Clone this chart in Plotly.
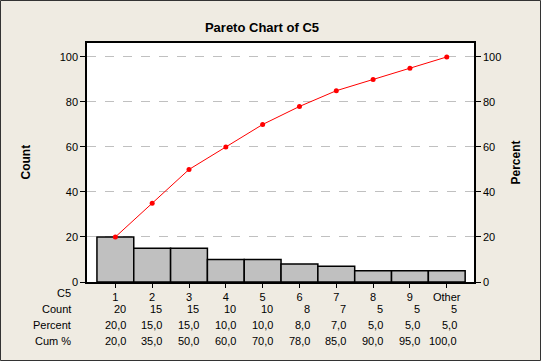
import plotly.graph_objects as go

categories = ["1", "2", "3", "4", "5", "6", "7", "8", "9", "Other"]
counts = [20, 15, 15, 10, 10, 8, 7, 5, 5, 5]
percents = [20.0, 15.0, 15.0, 10.0, 10.0, 8.0, 7.0, 5.0, 5.0, 5.0]
cum_pcts = [20.0, 35.0, 50.0, 60.0, 70.0, 78.0, 85.0, 90.0, 95.0, 100.0]
y_ticks = [0, 20, 40, 60, 80, 100]

W, H = 541, 361
L, R, T, B = 87, 474, 43, 282
pw, ph = R - L, B - T
FONT = "Liberation Sans, Arial, sans-serif"
BG = "#EFEBE2"

xs = list(range(1, len(categories) + 1))

fig = go.Figure()
fig.add_trace(go.Bar(x=xs, y=counts, width=1.0,
                     marker=dict(color="#C0C0C0", line=dict(color="black", width=1.5)),
                     yaxis="y", showlegend=False, hoverinfo="skip"))
fig.add_trace(go.Scatter(x=xs, y=cum_pcts, mode="lines+markers",
                         line=dict(color="#FF0000", width=1),
                         marker=dict(color="#FF0000", size=5),
                         yaxis="y2", showlegend=False, hoverinfo="skip"))

def fmt(v):
    return f"{v:.1f}".replace(".", ",")

ann = []
row_y = [293, 309, 325, 341]
row_labels = ["C5", "Count", "Percent", "Cum %"]
for lbl, py in zip(row_labels, row_y):
    ann.append(dict(text=lbl, xref="paper", yref="paper",
                    x=(73 - L) / pw, y=(B - py) / ph, xanchor="right", yanchor="middle",
                    showarrow=False, font=dict(size=11, color="black", family=FONT)))
row_vals = [[str(c) for c in counts], [fmt(p) for p in percents], [fmt(c) for c in cum_pcts]]
for vals, py in zip(row_vals, row_y[1:]):
    for x, v in zip(xs, vals):
        ann.append(dict(text=v, xref="x", yref="paper", x=x + 0.33, y=(B - py) / ph,
                        xanchor="right", yanchor="middle", showarrow=False,
                        font=dict(size=11, color="black", family=FONT)))
ann.append(dict(text="<b>Count</b>", xref="paper", yref="paper", x=(25 - L) / pw, y=0.5,
                textangle=-90, showarrow=False, xanchor="center", yanchor="middle",
                font=dict(size=12, color="black", family=FONT)))
ann.append(dict(text="<b>Percent</b>", xref="paper", yref="paper", x=(515 - L) / pw, y=0.5,
                textangle=-90, showarrow=False, xanchor="center", yanchor="middle",
                font=dict(size=12, color="black", family=FONT)))

fig.update_layout(
    width=W, height=H,
    margin=dict(l=L, r=W - R, t=T, b=H - B, pad=0),
    paper_bgcolor=BG, plot_bgcolor="white",
    font=dict(family=FONT, size=11, color="black"),
    title=dict(text="<b>Pareto Chart of C5</b>", x=262 / W, xanchor="center", xref="container",
               y=1 - 27 / H, yanchor="middle", font=dict(size=13, color="black", family=FONT)),
    xaxis=dict(range=[0.23, 10.74], tickvals=xs, ticktext=categories,
               ticks="outside", ticklen=4, tickcolor="black", showgrid=False,
               showline=True, linecolor="black", linewidth=1.5, mirror=True,
               zeroline=False, tickfont=dict(size=11, color="black")),
    yaxis=dict(range=[0, 106.2], tickvals=y_ticks, ticks="outside", ticklen=5,
               tickcolor="black", showgrid=True, gridcolor="#C0C0C0", griddash="dash",
               gridwidth=1, showline=True, linecolor="black", linewidth=1.5, mirror=True,
               zeroline=False, tickfont=dict(size=11, color="black")),
    yaxis2=dict(range=[0, 106.2], tickvals=y_ticks, overlaying="y", side="right",
                ticks="outside", ticklen=5, tickcolor="black", showgrid=False,
                showline=True, linecolor="black", linewidth=1.5, zeroline=False,
                tickfont=dict(size=11, color="black")),
    annotations=ann,
    shapes=[dict(type="rect", xref="paper", yref="paper",
                 x0=(0.5 - L) / pw, x1=(W - 0.5 - L) / pw,
                 y0=(B - (H - 0.5)) / ph, y1=(B - 0.5) / ph,
                 line=dict(color="#333333", width=1), layer="above")],
)

fig.write_html("out.html", config={"displayModeBar": False},
               post_script="document.body.style.margin='0';document.body.style.overflow='hidden';")
